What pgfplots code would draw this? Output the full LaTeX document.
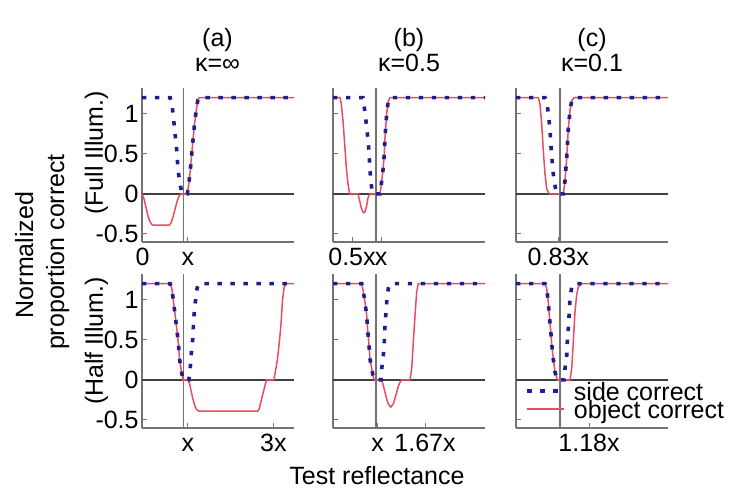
\documentclass[border=0pt]{standalone}
\usepackage{fontspec}
\setmainfont{Liberation Sans}
\usepackage{pgfplots}
\pgfplotsset{compat=1.18}
\newcommand\fz{\fontsize{12.5}{15}\selectfont}
\definecolor{sideblue}{rgb}{0.12,0.12,0.55}
\definecolor{objred}{rgb}{0.92,0.3,0.38}
\definecolor{axgray}{rgb}{0.45,0.45,0.45}
\pgfplotsset{
  panel/.style={
    scale only axis, width=76pt, height=77pt,
    xmin=0, xmax=152, ymin=-0.6, ymax=1.32,
    axis x line*=bottom, axis y line*=left,
    axis line style={axgray, line width=0.8pt, -},
    tick style={axgray, line width=0.5pt},
    tick align=inside, major tick length=2.5pt,
    ytick={-0.5,0,0.5,1}, yticklabels={},
    ticklabel style={font=\fz},
    xticklabel style={anchor=base, yshift=-12pt, inner sep=0pt},
    yticklabel style={inner sep=1.5pt},
  },
  leftpanel/.style={yticklabels={-0.5,0,0.5,1}},
  side/.style={draw=sideblue, line width=1.8pt, dash pattern=on 2.2pt off 4.3pt},
  obj/.style={draw=objred, line width=0.75pt},
  zeroline/.style={draw=black!75, line width=0.7pt, forget plot},
  vline/.style={draw=axgray, line width=0.7pt, forget plot},
}
\begin{document}
\begin{tikzpicture}[font=\fz]
\useasboundingbox (0,0) rectangle (365pt,245.5pt);

% (a) full illumination
\begin{axis}[panel, leftpanel, at={(71pt,124.5pt)}, xmax=151,
  xtick={0.5,45.5}, xticklabels={0,x}]
\addplot[zeroline] coordinates {(0,0) (151,0)};
\addplot[vline] coordinates {(41.3,-0.6) (41.3,1.32)};
\addplot[obj] coordinates {(0,0)(2,-0.06)(4,-0.17)(6,-0.28)(8,-0.35)(10,-0.385)(12,-0.39)(27,-0.39)(29,-0.36)(31,-0.28)(33,-0.18)(35,-0.09)(37,-0.02)(39,0)(45,0)(46.5,0.12)(48,0.3)(50,0.58)(52,0.85)(54,1.05)(55.5,1.17)(57,1.2)(151,1.2)};
\addplot[side] coordinates {(0,1.2)(28,1.2)(29.7,1.12)(31.3,0.94)(33,0.73)(34.7,0.52)(35.7,0.31)(37.3,0.16)(39.7,0)(45,0)(46.5,0.12)(48,0.3)(50,0.58)(52,0.85)(54,1.05)(55.5,1.17)(57,1.2)(151,1.2)};
\end{axis}

% (b) full illumination
\begin{axis}[panel, at={(166.5pt,124.5pt)},
  xtick={19,48}, xticklabels={0.5x,x}]
\addplot[zeroline] coordinates {(0,0) (152,0)};
\addplot[vline] coordinates {(43,-0.6) (43,1.32)};
\addplot[obj] coordinates {(0,1.2)(7,1.2)(8.3,1.12)(10,0.91)(11.7,0.62)(13.3,0.33)(15,0.12)(16.7,0)(25,0)(26.7,-0.09)(28,-0.16)(29.3,-0.21)(30.5,-0.235)(31.7,-0.23)(33.3,-0.17)(35,-0.05)(36.7,0)(47,0)(48.7,0.16)(50.3,0.33)(51.3,0.5)(52,0.7)(53.7,1.0)(55.3,1.16)(57,1.2)(152,1.2)};
\addplot[side] coordinates {(0,1.2)(30,1.2)(30.3,1.16)(32,1.02)(33.7,0.83)(35.3,0.64)(36.3,0.45)(37,0.31)(37.7,0.16)(39.7,0)(47,0)(48.7,0.16)(50.3,0.33)(51.3,0.5)(52,0.7)(53.7,1.0)(55.3,1.16)(57,1.2)(152,1.2)};
\end{axis}

% (c) full illumination
\begin{axis}[panel, at={(258pt,124.5pt)},
  xtick={42.3}, xticklabels={0.83x}]
\addplot[zeroline] coordinates {(0,0) (152,0)};
\addplot[vline] coordinates {(44,-0.6) (44,1.32)};
\addplot[obj] coordinates {(0,1.2)(22.3,1.2)(24,1.12)(25.7,0.87)(27.3,0.54)(29,0.25)(30.7,0.06)(33.3,0)(47.3,0)(49,0.16)(50.7,0.45)(52.3,0.81)(54,1.04)(55.7,1.16)(58,1.2)(152,1.2)};
\addplot[side] coordinates {(0,1.2)(29,1.2)(30.7,1.16)(32.3,1.0)(34,0.81)(34.7,0.64)(35.7,0.48)(36.7,0.33)(38,0.16)(40.7,0)(47.3,0)(49,0.16)(50.7,0.45)(52.3,0.81)(54,1.04)(55.7,1.16)(58,1.2)(152,1.2)};
\end{axis}

% (a) half illumination
\begin{axis}[panel, leftpanel, at={(71pt,31.5pt)}, xmax=151,
  xtick={45.5,130.5}, xticklabels={x,3x}]
\addplot[zeroline] coordinates {(0,0) (151,0)};
\addplot[vline] coordinates {(41.3,-0.6) (41.3,1.32)};
\addplot[obj] coordinates {(0,1.2)(28,1.2)(29.7,1.14)(31.3,0.97)(33,0.8)(34.7,0.62)(36.3,0.43)(37.3,0.26)(38.7,0.14)(40.7,0)(46,0)(47.5,-0.06)(49,-0.15)(51,-0.26)(53,-0.34)(55,-0.38)(57,-0.39)(115,-0.39)(116.5,-0.36)(118,-0.28)(120,-0.18)(122,-0.08)(123.6,0)(131,0)(132.5,0.1)(134.6,0.26)(136.5,0.48)(138,0.68)(139.6,1.0)(141.3,1.16)(143,1.2)(151,1.2)};
\addplot[side] coordinates {(0,1.2)(28,1.2)(29.7,1.14)(31.3,0.97)(33,0.8)(34.7,0.62)(36.3,0.43)(37.3,0.26)(38.7,0.14)(40.7,0)(46.5,0)(48,0.16)(49,0.33)(50.7,0.55)(51.3,0.76)(53,0.97)(54.7,1.14)(56.3,1.2)(151,1.2)};
\end{axis}

% (b) half illumination
\begin{axis}[panel, at={(166.5pt,31.5pt)},
  xtick={44.5,92}, xticklabels={x,1.67x}]
\addplot[zeroline] coordinates {(0,0) (152,0)};
\addplot[vline] coordinates {(43,-0.6) (43,1.32)};
\addplot[obj] coordinates {(0,1.2)(28.7,1.2)(30.3,1.1)(32,0.97)(33.7,0.8)(34.7,0.62)(36,0.43)(37,0.26)(38.7,0.14)(40.3,0.03)(41.5,0)(48.7,0)(50.3,-0.07)(52,-0.155)(53.7,-0.24)(55.3,-0.3)(57.7,-0.34)(60.3,-0.3)(62,-0.23)(63.7,-0.155)(65.3,-0.08)(67,-0.03)(68.7,0)(77,0)(78.7,0.14)(80.3,0.47)(82,0.8)(83.7,1.1)(85.3,1.2)(152,1.2)};
\addplot[side] coordinates {(0,1.2)(28.7,1.2)(30.3,1.1)(32,0.97)(33.7,0.8)(34.7,0.62)(36,0.43)(37,0.26)(38.7,0.14)(40.3,0.03)(42,0)(48,0)(48.7,0.14)(50.3,0.3)(51.3,0.47)(52,0.68)(53.7,0.97)(55.3,1.14)(57,1.2)(152,1.2)};
\end{axis}

% (c) half illumination
\begin{axis}[panel, at={(258pt,31.5pt)},
  xtick={73}, xticklabels={1.18x},
  legend style={draw=none, fill=none, at={(0.059,0.3)}, anchor=north west,
    inner sep=0pt, row sep=0pt, column sep=4pt,
    nodes={inner sep=0pt, text height=9pt, text depth=0pt, font=\fz}},
  legend cell align=left, reverse legend,
  legend image code/.code={\draw[#1] (0pt,0pt) -- (18.5pt,0pt);}]
\addplot[zeroline] coordinates {(0,0) (152,0)};
\addplot[vline] coordinates {(44,-0.6) (44,1.32)};
\addplot[obj] coordinates {(0,1.2)(29,1.2)(30.7,1.14)(32.3,0.97)(33.3,0.8)(34.7,0.62)(35.7,0.45)(37.3,0.26)(39,0.1)(41.3,0)(54,0)(55.7,0.14)(57.3,0.47)(59,0.85)(60.7,1.06)(62.3,1.16)(65.7,1.2)(152,1.2)};
\addlegendentry{object correct}
\addplot[side] coordinates {(0,1.2)(29,1.2)(30.7,1.14)(32.3,0.97)(33.3,0.8)(34.7,0.62)(35.7,0.45)(37.3,0.26)(39,0.1)(41.3,0)(48,0)(49,0.14)(50.7,0.3)(51.3,0.47)(52.3,0.64)(53.3,0.85)(54,1.01)(55.7,1.16)(57.3,1.2)(152,1.2)};
\addlegendentry{side correct}
\end{axis}

% panel titles
\node[anchor=base] at (108.75pt,222pt) {(a)};
\node[anchor=base] at (108.75pt,209.5pt) {κ=∞};
\node[anchor=base] at (204.5pt,222pt) {(b)};
\node[anchor=base] at (204.5pt,209.5pt) {κ=0.5};
\node[anchor=base] at (296pt,222pt) {(c)};
\node[anchor=base] at (296pt,209.5pt) {κ=0.1};

% axis labels
\node[rotate=90, anchor=base] at (16.5pt,118pt) {Normalized};
\node[rotate=90, anchor=base] at (32pt,119.5pt) {proportion correct};
\node[rotate=90, anchor=base] at (51.5pt,169pt) {(Full Illum.)};
\node[rotate=90, anchor=base] at (51.5pt,75pt) {(Half Illum.)};
\node[anchor=base] at (188.5pt,3pt) {Test reflectance};
\end{tikzpicture}
\end{document}
